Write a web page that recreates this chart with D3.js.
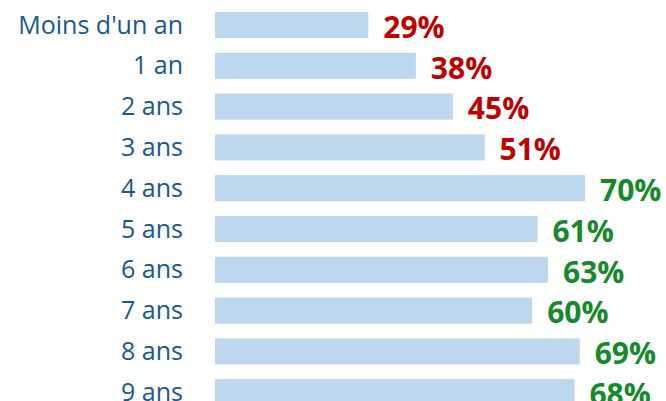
<!DOCTYPE html>
<html><head><meta charset="utf-8">
<script src="https://cdn.jsdelivr.net/npm/d3@7"></script>
<style>body{margin:0;background:#fff;overflow:hidden}</style>
</head><body>
<script>
const categories = ["Moins d'un an","1 an","2 ans","3 ans","4 ans","5 ans","6 ans","7 ans","8 ans","9 ans"];
const values = [29,38,45,51,70,61,63,60,69,68];
const valueColors = ["#c00000","#c00000","#c00000","#c00000","#16892b","#16892b","#16892b","#16892b","#16892b","#16892b"];

const W = 666, H = 401;
const svg = d3.select("body").append("svg").attr("width", W).attr("height", H);
const x = d3.scaleLinear().domain([0, 70]).range([215, 585]);
const y = d3.scaleBand().domain(categories).range([4.6, 412.6]).paddingInner(0.36).paddingOuter(0.18);

const rows = svg.selectAll("g.row").data(categories).join("g").attr("class","row");
rows.append("rect")
  .attr("x", x(0))
  .attr("y", d => y(d))
  .attr("width", (d,i) => x(values[i]) - x(0))
  .attr("height", y.bandwidth())
  .attr("fill", "#bdd7ee");
rows.append("text")
  .attr("x", 183)
  .attr("y", d => y(d) + y.bandwidth()/2)
  .attr("dy", "0.34em")
  .attr("text-anchor", "end")
  .attr("font-family", "'Open Sans', sans-serif")
  .attr("font-size", 25)
  .attr("fill", "#18598b")
  .text(d => d);
rows.append("text")
  .attr("x", (d,i) => x(values[i]) + 15)
  .attr("y", d => y(d) + y.bandwidth()/2 + 2)
  .attr("dy", "0.36em")
  .attr("font-family", "'Open Sans', sans-serif")
  .attr("font-weight", "bold")
  .attr("font-size", 30)
  .attr("fill", (d,i) => valueColors[i])
  .text((d,i) => values[i] + "%");
</script>
</body></html>
